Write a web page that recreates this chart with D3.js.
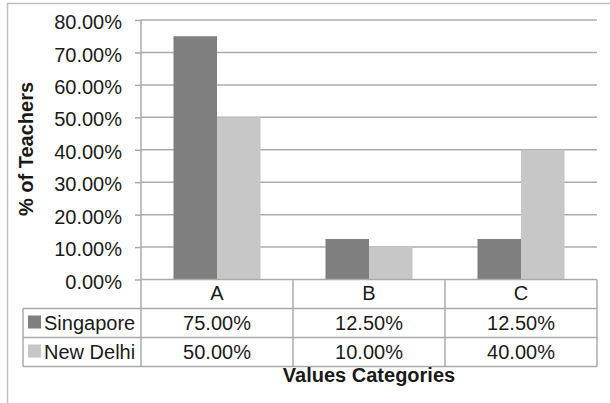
<!DOCTYPE html>
<html>
<head>
<meta charset="utf-8">
<script src="https://cdn.jsdelivr.net/npm/d3@7"></script>
<style>
  body { margin: 0; background: #fff; }
  text { font-family: "Liberation Sans", Arial, sans-serif; fill: #1a1a1a; }
</style>
</head>
<body>
<div id="chart"></div>
<script>
var categories = ["A", "B", "C"];
var seriesNames = ["Singapore", "New Delhi"];
var singapore = [0.75, 0.125, 0.125];
var newDelhi = [0.50, 0.10, 0.40];
var yTicks = [0, 0.1, 0.2, 0.3, 0.4, 0.5, 0.6, 0.7, 0.8];

var seriesValues = [singapore, newDelhi];
var colors = ["#7f7f7f", "#c6c7c6"];

(function() {
  var width = 610, height = 403;
  var left = 141, right = 597, top = 20, bottom = 279.5;
  var rowH = 29, tableLeft = 23;
  var fmt = d3.format(".2%");
  var lineColor = "#ababab";
  var fs = "20px";

  var svg = d3.select("#chart")
    .append("svg")
    .attr("width", width)
    .attr("height", height);

  // outer chart border
  svg.append("path")
    .attr("d", "M7.5,403 V3.5 H610")
    .attr("fill", "none")
    .attr("stroke", "#c0c0c0")
    .attr("stroke-width", 1.5);

  var x = d3.scaleBand().domain(categories).range([left, right]);
  var x1 = d3.scaleBand().domain(seriesNames).range([0, x.bandwidth()]).paddingOuter(0.747);
  var y = d3.scaleLinear().domain([0, 0.8]).range([bottom, top]);

  // gridlines
  svg.append("g")
    .selectAll("line")
    .data(yTicks.filter(function(d){ return d > 0; }))
    .enter().append("line")
    .attr("x1", left).attr("x2", right)
    .attr("y1", function(d){ return y(d); })
    .attr("y2", function(d){ return y(d); })
    .attr("stroke", lineColor)
    .attr("stroke-width", 1.5);

  // bars
  seriesNames.forEach(function(s, i) {
    svg.append("g")
      .selectAll("rect")
      .data(seriesValues[i])
      .enter().append("rect")
      .attr("x", function(d, j){ return x(categories[j]) + x1(s); })
      .attr("width", x1.bandwidth())
      .attr("y", function(d){ return y(d); })
      .attr("height", function(d){ return y(0) - y(d); })
      .attr("fill", colors[i]);
  });

  // y axis
  var yAxis = d3.axisLeft(y)
    .tickValues(yTicks)
    .tickFormat(fmt)
    .tickSizeInner(6)
    .tickSizeOuter(0)
    .tickPadding(13);

  var ag = svg.append("g")
    .attr("transform", "translate(" + left + ",0)")
    .call(yAxis);
  ag.select(".domain").remove();
  ag.selectAll(".tick line").attr("stroke", lineColor).attr("stroke-width", 1.5);
  ag.selectAll(".tick text")
    .attr("dy", "0.43em")
    .style("font-size", fs)
    .style("font-family", "'Liberation Sans', Arial, sans-serif")
    .attr("fill", "#1a1a1a");

  // data table
  var tableBottom = bottom + rowH * 3;
  var t = svg.append("g");

  // vertical lines
  t.selectAll("line.v")
    .data([left, x("B"), x("C"), right])
    .enter().append("line")
    .attr("class", "v")
    .attr("x1", function(d){ return d; }).attr("x2", function(d){ return d; })
    .attr("y1", function(d){ return d === left ? top : bottom; })
    .attr("y2", tableBottom)
    .attr("stroke", lineColor).attr("stroke-width", 1.5);

  t.append("line")
    .attr("x1", tableLeft).attr("x2", tableLeft)
    .attr("y1", bottom + rowH).attr("y2", tableBottom)
    .attr("stroke", lineColor).attr("stroke-width", 1.5);

  // horizontal lines
  t.append("line")
    .attr("x1", left).attr("x2", right)
    .attr("y1", bottom).attr("y2", bottom)
    .attr("stroke", lineColor).attr("stroke-width", 1.5);
  t.selectAll("line.h")
    .data([1, 2, 3])
    .enter().append("line")
    .attr("class", "h")
    .attr("x1", tableLeft).attr("x2", right)
    .attr("y1", function(d){ return bottom + rowH * d; })
    .attr("y2", function(d){ return bottom + rowH * d; })
    .attr("stroke", lineColor).attr("stroke-width", 1.5);

  // category labels
  t.selectAll("text.cat")
    .data(categories)
    .enter().append("text")
    .attr("class", "cat")
    .attr("x", function(d){ return x(d) + x.bandwidth() / 2; })
    .attr("y", bottom + 20.5)
    .attr("text-anchor", "middle")
    .style("font-size", fs)
    .text(function(d){ return d; });

  // series rows
  seriesNames.forEach(function(s, i) {
    var ry = bottom + rowH * (i + 1);
    t.append("rect")
      .attr("x", 28).attr("y", ry + 7)
      .attr("width", 13).attr("height", 13)
      .attr("fill", colors[i]);
    t.append("text")
      .attr("x", 44).attr("y", ry + 21)
      .style("font-size", fs)
      .text(s);
    t.selectAll("text.v" + i)
      .data(seriesValues[i])
      .enter().append("text")
      .attr("x", function(d, j){ return x(categories[j]) + x.bandwidth() / 2; })
      .attr("y", ry + 21)
      .attr("text-anchor", "middle")
      .style("font-size", fs)
      .text(function(d){ return fmt(d); });
  });

  // axis titles
  svg.append("text")
    .attr("x", (left + right) / 2)
    .attr("y", 382)
    .attr("text-anchor", "middle")
    .style("font-size", fs)
    .style("font-weight", "bold")
    .text("Values Categories");

  svg.append("text")
    .attr("transform", "translate(33,149) rotate(-90)")
    .attr("text-anchor", "middle")
    .style("font-size", fs)
    .style("font-weight", "bold")
    .text("% of Teachers");
})();
</script>
</body>
</html>
